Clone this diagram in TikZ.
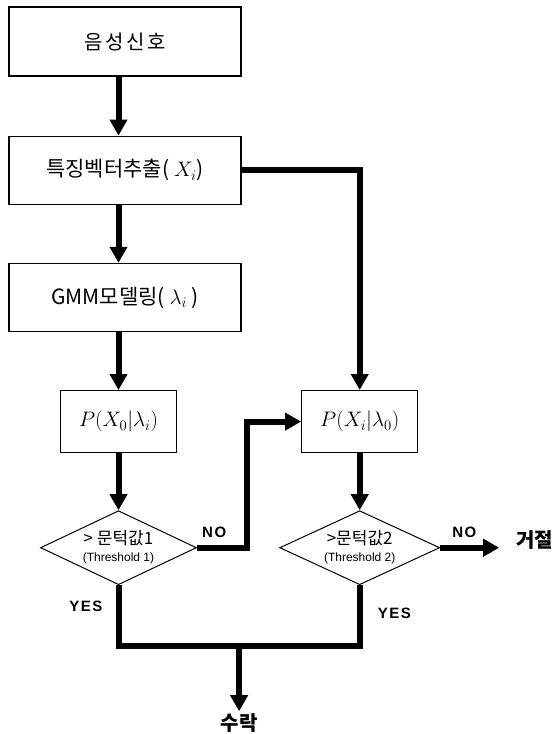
\RequirePackage{fix-cm}
\documentclass[tikz,border=0pt]{standalone}
\usepackage[no-math]{fontspec}
\setmainfont{Noto Sans CJK KR}
\newfontfamily\spacedfont[LetterSpace=14]{Noto Sans CJK KR}
\newfontfamily\thfont{Liberation Sans}
\newfontfamily\lblfont[LetterSpace=10]{Liberation Sans}
\usetikzlibrary{positioning}
\usetikzlibrary{arrows.meta}
\usetikzlibrary{shapes.geometric}
\usetikzlibrary{calc}

\begin{document}
\begin{tikzpicture}[x=1pt,y=1pt,
	box/.style={draw, line width=1.2pt, minimum width=232pt, minimum height=68pt, font=\fontsize{21}{23}\selectfont},
	pbox/.style={draw, line width=1.2pt, minimum width=116pt, minimum height=62pt, font=\fontsize{21}{24}\selectfont},
	test/.style={draw, diamond, line width=1pt, minimum width=156pt, minimum height=74pt, inner sep=0pt, shape aspect=2.1, align=center, font=\fontsize{17}{17}\selectfont},
	flow/.style={line width=6pt, -{Triangle[length=16pt,width=17pt]}},
	bar/.style={line width=6pt},
	lbl/.style={inner sep=0pt, font=\lblfont\bfseries\fontsize{15}{16}\selectfont},
	outcome/.style={inner sep=0pt, font=\bfseries\fontsize{20}{22}\selectfont}]
		\useasboundingbox (0,0) rectangle (555,-734);
		\node (sig) [box, minimum height=69pt, font=\spacedfont\fontsize{20}{22}\selectfont] at (125,-41.5) {음성신호};
		\node (feat) [box, below=59pt of sig] {특징벡터추출( $X_i$)};
		\node (gmm) [box, below=58pt of feat] {GMM모델링( $\lambda_i$ )};
		\node (p0) [pbox, below=58pt of gmm, xshift=-6.5pt] {$P(X_0|\lambda_i)$};
		\node (p1) [pbox, right=124pt of p0] {$P(X_i|\lambda_0)$};
		\node (th1) [test, below=57pt of p0] {> 문턱값1\\{\thfont\fontsize{12}{12}\selectfont(Threshold 1)}};
		\node (th2) [test, minimum width=160pt, below=57pt of p1] {>문턱값2\\{\thfont\fontsize{12}{12}\selectfont(Threshold 2)}};
		\node (rej) [outcome, right=76pt of th2, yshift=8pt] {거절};
		\coordinate (nobend) at ($(th1.east)+(50,0)$);
		\coordinate (c1) at ($(th1.south)+(0,-61)$);
		\coordinate (c2) at ($(th2.south)+(0,-61)$);
		\coordinate (cm) at ($(c1)!0.5!(c2)$);
		\node (acc) [outcome, below=67pt of cm] {수락};
		\node (no1) [lbl, above right=10pt and 5pt of th1.east] {NO};
		\node (no2) [lbl, above right=10pt and 12pt of th2.east] {NO};
		\node (yes1) [lbl, below left=16pt and 16pt of th1.south] {YES};
		\node (yes2) [lbl, below right=23pt and 18pt of th2.south] {YES};
		\draw[flow] (sig.south -| p0) -- (feat.north -| p0);
		\draw[flow] (feat.south -| p0) -- (gmm.north -| p0);
		\draw[flow] (gmm.south -| p0) -- (p0.north);
		\draw[flow] (p0) -- (th1);
		\draw[flow] (feat.east) -| (p1.north);
		\draw[flow] (th1.east) -- (nobend) |- (p1.west);
		\draw[flow] (p1) -- (th2);
		\draw[flow, shorten >=17pt] (th2.east) -- (rej.west |- th2.east);
		\draw[bar] (th1.south) -- (c1) -- (c2) -- (th2.south);
		\draw[flow, shorten >=2pt] (cm) -- (acc);
\end{tikzpicture}
\end{document}
